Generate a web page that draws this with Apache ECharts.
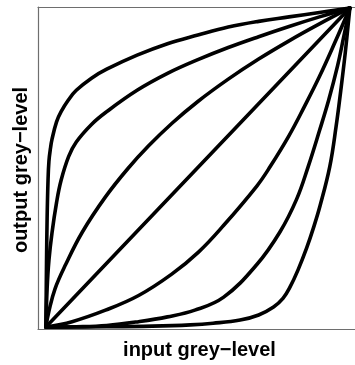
<!DOCTYPE html>
<html>
<head>
<meta charset="utf-8">
<script src="https://cdn.jsdelivr.net/npm/echarts@6/dist/echarts.min.js"></script>
<style>
  html, body { margin: 0; padding: 0; background: #ffffff; }
  #chart { width: 355px; height: 365px; }
</style>
</head>
<body>
<div id="chart"></div>
<script>
// Grey-level transfer curves: [input, output] pairs, input and output both in 0..1
const curveA = [[0,0],[0.002,0.2],[0.004,0.34],[0.007,0.46],[0.01,0.52],[0.015,0.56],[0.02,0.588],[0.035,0.643],[0.05,0.675],[0.075,0.713],[0.1,0.742],[0.15,0.78],[0.2,0.808],[0.3,0.852],[0.4,0.888],[0.5,0.915],[0.6,0.94],[0.7,0.958],[0.8,0.972],[0.9,0.986],[1,1]];
const curveB = [[0,0],[0.004,0.12],[0.01,0.21],[0.02,0.295],[0.035,0.39],[0.05,0.46],[0.075,0.535],[0.1,0.58],[0.15,0.635],[0.2,0.675],[0.3,0.742],[0.4,0.795],[0.5,0.838],[0.6,0.876],[0.7,0.91],[0.8,0.942],[0.9,0.972],[1,1]];
const curveC = [[0,0],[0.01,0.05],[0.03,0.12],[0.065,0.196],[0.12,0.298],[0.196,0.408],[0.27,0.497],[0.338,0.568],[0.414,0.638],[0.5,0.707],[0.6,0.777],[0.7,0.84],[0.8,0.897],[0.9,0.95],[1,1]];
const curveD = [[0,0],[1,1]];
const curveE = [[0,0],[0.086,0.017],[0.196,0.053],[0.305,0.099],[0.414,0.166],[0.502,0.235],[0.585,0.319],[0.694,0.442],[0.738,0.503],[0.8,0.6],[0.85,0.69],[0.9,0.785],[0.95,0.89],[1,1]];
const curveF = [[0,0],[0.1,0.001],[0.2,0.005],[0.305,0.017],[0.4,0.032],[0.49,0.053],[0.585,0.094],[0.694,0.196],[0.77,0.298],[0.825,0.401],[0.863,0.503],[0.9,0.615],[0.93,0.71],[0.96,0.82],[0.98,0.91],[1,1]];
const curveG = [[0,0],[0.2,0.001],[0.35,0.003],[0.475,0.007],[0.55,0.012],[0.639,0.022],[0.7,0.038],[0.749,0.063],[0.78,0.09],[0.803,0.125],[0.83,0.18],[0.858,0.248],[0.88,0.31],[0.902,0.38],[0.934,0.503],[0.955,0.63],[0.97,0.74],[0.985,0.86],[1,1]];

const curves = [curveA, curveB, curveC, curveD, curveE, curveF, curveG];

const xTitle = 'input grey\u2212level';
const yTitle = 'output grey\u2212level';

const frameLine = { show: true, onZero: false, lineStyle: { color: '#6e6e6e', width: 1.2 } };
const titleFont = { fontFamily: 'Liberation Sans, Arial, sans-serif', fontWeight: 'bold', fontSize: 20, color: '#000' };

const chart = echarts.init(document.getElementById('chart'), null, { renderer: 'canvas' });
chart.setOption({
  animation: false,
  backgroundColor: '#ffffff',
  grid: { left: 38, right: 0, top: 7, bottom: 29 },
  xAxis: [
    {
      type: 'value', position: 'bottom', min: -0.026, max: 1.017,
      axisLine: frameLine, axisTick: { show: false }, axisLabel: { show: false }, splitLine: { show: false },
      name: xTitle, nameLocation: 'middle', nameGap: 11, nameTextStyle: Object.assign({ padding: [0, 0, 0, 6] }, titleFont)
    },
    {
      type: 'value', position: 'top', min: -0.026, max: 1.017,
      axisLine: frameLine, axisTick: { show: false }, axisLabel: { show: false }, splitLine: { show: false }
    }
  ],
  yAxis: {
    type: 'value', min: -0.006, max: 1.003,
    axisLine: frameLine, axisTick: { show: false }, axisLabel: { show: false }, splitLine: { show: false },
    name: yTitle, nameLocation: 'middle', nameGap: 7, nameTextStyle: Object.assign({ padding: [0, 4, 0, 0] }, titleFont)
  },
  series: curves.map(function (pts) {
    return {
      type: 'line', xAxisIndex: 0, data: pts,
      showSymbol: false, smooth: 0.4, clip: false,
      lineStyle: { color: '#000', width: 3.6, cap: 'round', join: 'round' }
    };
  })
});
</script>
</body>
</html>
